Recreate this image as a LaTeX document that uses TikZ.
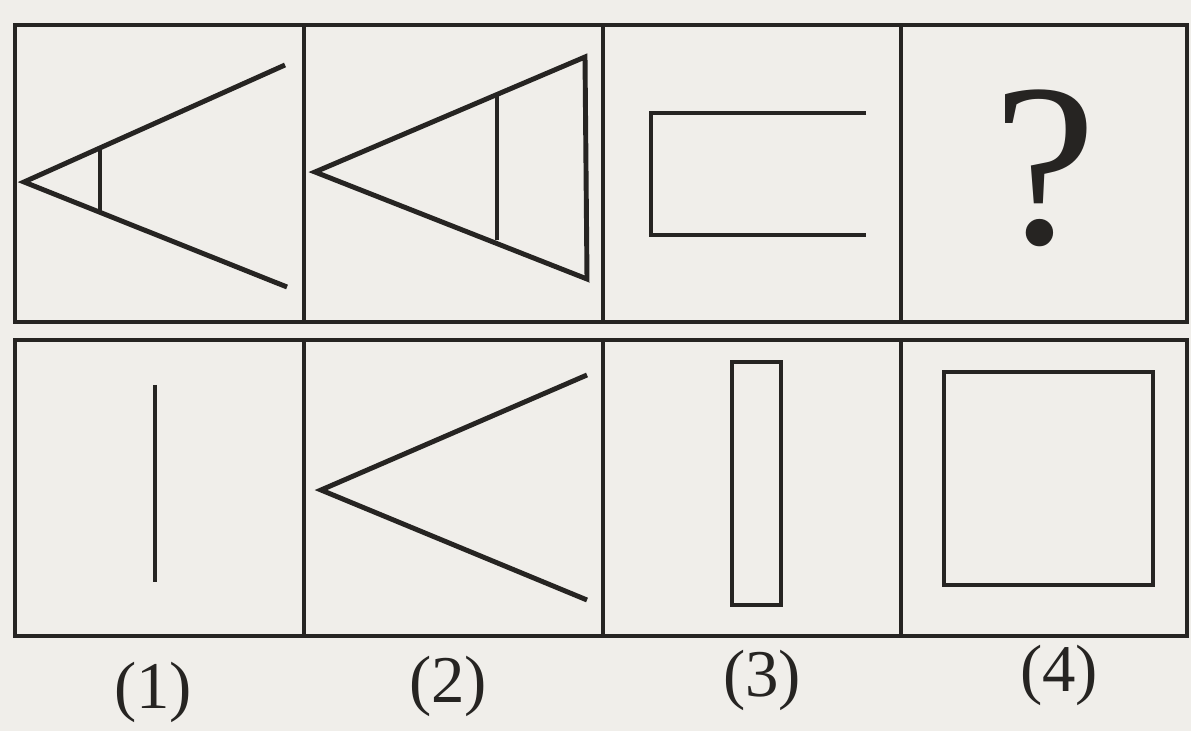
\documentclass[tikz,border=0pt]{standalone}
\usepackage{fontspec}
\setmainfont{Liberation Serif}
\definecolor{paper}{RGB}{240,238,234}
\definecolor{ink}{RGB}{38,36,34}
\begin{document}
\begin{tikzpicture}[x=0.01cm,y=-0.01cm,line width=1.2pt,draw=ink,
    figline/.style={draw=ink,line width=1.4pt,line join=miter},
    caption/.style={font=\fontsize{19}{22}\selectfont,text=ink}]
        \fill[paper] (0,0) rectangle (1191,731);
        \useasboundingbox (0,0) rectangle (1191,731);
        % frames
        \draw (15,25) rectangle (1187,322);
        \draw (15,340) rectangle (1187,636);
        \draw (304,25) -- (304,322);
        \draw (603,25) -- (603,322);
        \draw (901,25) -- (901,322);
        \draw (304,340) -- (304,636);
        \draw (603,340) -- (603,636);
        \draw (901,340) -- (901,636);
        % top row
        \draw[figline] (285,65) -- (24,182) -- (287,287);
        \draw[figline] (100,148) -- (100,212);
        \draw[figline] (585,57) -- (315,172) -- (587,279) -- cycle;
        \draw[figline] (497,96) -- (497,240);
        \draw[figline] (866,113) -- (651,113) -- (651,235) -- (866,235);
        \node[font=\fontsize{66}{66}\selectfont,text=ink] (quest) at (1045,168) {?};
        % bottom row
        \draw[figline] (155,385) -- (155,582);
        \draw[figline] (587,375) -- (321,490) -- (587,600);
        \draw[figline] (732,362) rectangle (781,605);
        \draw[figline] (944,372) rectangle (1153,585);
        % captions
        \node[caption] (lab1) at (153,692) {(1)};
        \node[caption] (lab2) at (448,686) {(2)};
        \node[caption] (lab3) at (762,680) {(3)};
        \node[caption] (lab4) at (1059,675) {(4)};
    \end{tikzpicture}
\end{document}
